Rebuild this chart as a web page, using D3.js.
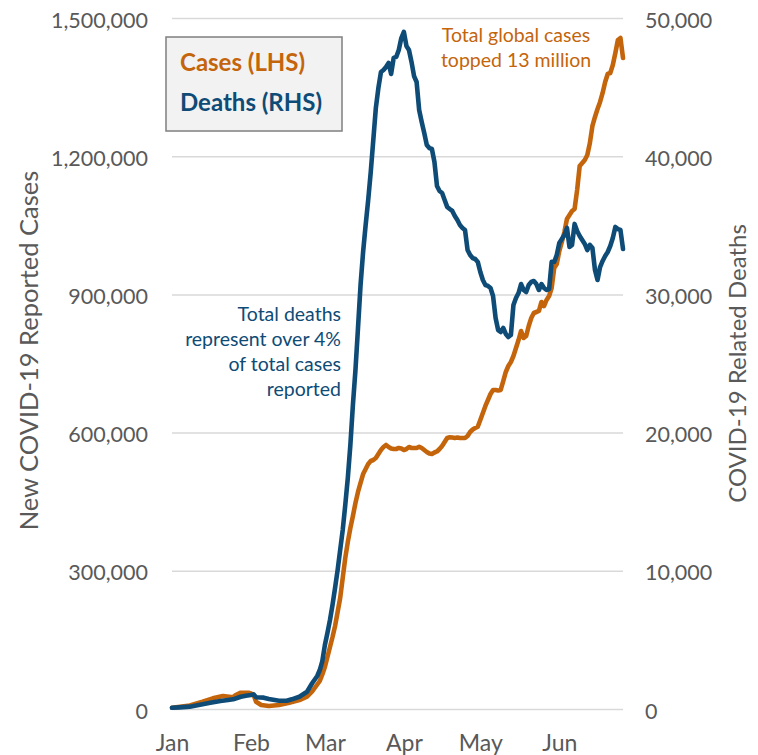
<!DOCTYPE html>
<html>
<head>
<meta charset="utf-8">
<script src="https://cdn.jsdelivr.net/npm/d3@7"></script>
<style>
  html, body { margin: 0; padding: 0; background: #fff; }
  svg { display: block; }
</style>
</head>
<body>
<svg id="chart" width="758" height="755"></svg>
<script>
// Rolling 7-day totals, days counted from 1 Jan 2020.
// Sparse readings until late February, then one value per day.
const earlyCaseDays = [0, 7, 12, 16, 20, 24, 25, 27, 30, 31, 32, 33, 35, 38, 42, 46, 50, 53, 55, 56, 58, 59];
const earlyCases = [2800, 7600, 15800, 23200, 28200, 25400, 30400, 35400, 35400, 33600, 30400, 15800, 8700, 6500, 8700, 13700, 19500, 26700, 38000, 45600, 60800, 75000];

const dailyCases = [
  91200, 112900, 134600, 156300, 180200, 210600, 241000, 284400, 327800, 362500,
  392900, 419000, 447200, 471100, 490600, 510100, 521000, 531800, 538400, 540500,
  544900, 553600, 562200, 568700, 573100, 568700, 565500, 564400, 564400, 566600,
  565500, 562200, 564400, 568700, 566600, 566600, 566600, 569400, 566600, 562200,
  557900, 554600, 553600, 556800, 559000, 564400, 570900, 579600, 588300, 589800,
  589400, 588300, 589400, 588300, 588300, 588300, 592600, 601300, 606700, 610000,
  612800, 627400, 642600, 657800, 670800, 683800, 692500, 692500, 691400, 692500,
  712000, 731600, 744600, 753300, 766300, 783700, 801000, 820600, 805400, 809700,
  831400, 848800, 859600, 861800, 864000, 883500, 874800, 887900, 896500, 913900,
  957300, 966000, 994200, 1013800, 1035500, 1063700, 1072400, 1081100, 1085400, 1126600,
  1178700, 1185300, 1191800, 1202600, 1228700, 1265600, 1285100, 1302500, 1317700, 1337200,
  1361100, 1378500, 1380600, 1398000, 1424000, 1452300, 1456600, 1413200
];

const earlyDeathDays = [0, 3, 7, 10, 12, 15, 19, 22, 24, 27, 29, 31, 32, 33, 36, 38, 42, 45, 47, 50, 53, 55, 57, 58, 59];
const earlyDeaths = [90, 120, 170, 270, 340, 450, 580, 650, 700, 890, 960, 1010, 1060, 850, 820, 720, 600, 600, 700, 890, 1250, 1860, 2390, 2820, 3470];

const dailyDeaths = [
  4630, 5500, 6440, 7530, 8760, 10060, 11510, 12950, 14760, 16720,
  19100, 22000, 24530, 27570, 30680, 33070, 35020, 36830, 38860, 41170,
  43490, 44940, 46090, 46240, 46460, 46750, 45950, 47110, 47180, 47690,
  48550, 48990, 47980, 47690, 46820, 45800, 45370, 43340, 42480, 41680,
  40810, 40590, 40520, 39580, 37840, 37480, 37340, 36830, 36330, 36180,
  36040, 35670, 35380, 35020, 34810, 34660, 33210, 32850, 32630, 32560,
  32350, 31620, 31040, 30680, 30610, 30460, 29890, 28290, 27420, 27280,
  27570, 27140, 26920, 27060, 29230, 29740, 30100, 30750, 30320, 30170,
  30680, 30900, 30970, 30750, 30320, 30750, 30460, 30320, 30390, 32350,
  32350, 32850, 33720, 34010, 34300, 34810, 33430, 33580, 35100, 34590,
  34230, 33940, 33650, 33210, 33580, 33360, 31770, 31040, 31980, 32420,
  32780, 33070, 33500, 34080, 34880, 34730, 34660, 33290
];
const firstDailyDay = 60;

const caseTicks = [0, 300000, 600000, 900000, 1200000, 1500000];
const deathTicks = [0, 10000, 20000, 30000, 40000, 50000];
const monthLabels = ["Jan", "Feb", "Mar", "Apr", "May", "Jun"];

const legendItems = ["Cases (LHS)", "Deaths (RHS)"];
const casesNote = ["Total global cases", "topped 13 million"];
const deathsNote = ["Total deaths", "represent over 4%", "of total cases", "reported"];
const leftTitle = "New COVID-19 Reported Cases";
const rightTitle = "COVID-19 Related Deaths";

// ---- build series ----
const start = new Date(2020, 0, 1);
const dayToDate = d => d3.timeDay.offset(start, d);

function buildSeries(earlyDays, earlyVals, dailyVals) {
  const pts = earlyDays.map((d, i) => ({ date: dayToDate(d), value: earlyVals[i] }));
  dailyVals.forEach((v, i) => pts.push({ date: dayToDate(firstDailyDay + i), value: v }));
  return pts;
}
const caseSeries = buildSeries(earlyCaseDays, earlyCases, dailyCases);
const deathSeries = buildSeries(earlyDeathDays, earlyDeaths, dailyDeaths);

// ---- layout ----
const plot = { left: 172, right: 623, top: 18, bottom: 709 };
const ORANGE = "#C4650C";
const BLUE = "#0E4B76";
const GREY_TEXT = "#595959";
const FONT = "Lato, 'Open Sans', sans-serif";

const svg = d3.select("#chart");

const x = d3.scaleTime()
  .domain([start, dayToDate(177)])
  .range([plot.left, plot.right]);
const yCases = d3.scaleLinear().domain([0, 1500000]).range([plot.bottom, plot.top]);
const yDeaths = d3.scaleLinear().domain([0, 50000]).range([plot.bottom, plot.top]);

// left axis draws the horizontal gridlines
const leftAxis = svg.append("g")
  .attr("transform", `translate(${plot.left},0)`)
  .call(d3.axisLeft(yCases)
    .tickValues(caseTicks)
    .tickSize(-(plot.right - plot.left))
    .tickPadding(24)
    .tickFormat(d3.format(",")));
leftAxis.select(".domain").remove();
leftAxis.selectAll(".tick line").attr("stroke", "#D9D9D9").attr("stroke-width", 1.5);
leftAxis.selectAll(".tick text")
  .attr("fill", GREY_TEXT)
  .attr("dy", "0.42em")
  .style("font-family", FONT)
  .style("font-size", "21.5px");

const rightAxis = svg.append("g")
  .attr("transform", `translate(${plot.right},0)`)
  .call(d3.axisRight(yDeaths)
    .tickValues(deathTicks)
    .tickSize(0)
    .tickPadding(22)
    .tickFormat(d3.format(",")));
rightAxis.select(".domain").remove();
rightAxis.selectAll(".tick text")
  .attr("fill", GREY_TEXT)
  .attr("dy", "0.42em")
  .style("font-family", FONT)
  .style("font-size", "21.5px");

const monthDates = monthLabels.map((m, i) => new Date(2020, i, 1));
const bottomAxis = svg.append("g")
  .attr("transform", `translate(0,${plot.bottom})`)
  .call(d3.axisBottom(x)
    .tickValues(monthDates)
    .tickSize(0)
    .tickPadding(26)
    .tickFormat((d, i) => monthLabels[i]));
bottomAxis.select(".domain").remove();
bottomAxis.selectAll(".tick text")
  .attr("fill", GREY_TEXT)
  .style("font-family", FONT)
  .style("font-size", "23px");

// axis titles
svg.append("text")
  .attr("transform", `translate(38,${(plot.top + plot.bottom) / 2 - 13}) rotate(-90)`)
  .attr("text-anchor", "middle")
  .attr("fill", GREY_TEXT)
  .style("font-family", FONT)
  .style("font-size", "25.5px")
  .text(leftTitle);

svg.append("text")
  .attr("transform", `translate(746,${(plot.top + plot.bottom) / 2}) rotate(-90)`)
  .attr("text-anchor", "middle")
  .attr("fill", GREY_TEXT)
  .style("font-family", FONT)
  .style("font-size", "24px")
  .text(rightTitle);

// lines
const caseLine = d3.line().x(d => x(d.date)).y(d => yCases(d.value));
const deathLine = d3.line().x(d => x(d.date)).y(d => yDeaths(d.value));

svg.append("path")
  .datum(caseSeries)
  .attr("d", caseLine)
  .attr("fill", "none")
  .attr("stroke", ORANGE)
  .attr("stroke-width", 4.6)
  .attr("stroke-linejoin", "round")
  .attr("stroke-linecap", "round");

svg.append("path")
  .datum(deathSeries)
  .attr("d", deathLine)
  .attr("fill", "none")
  .attr("stroke", BLUE)
  .attr("stroke-width", 4.6)
  .attr("stroke-linejoin", "round")
  .attr("stroke-linecap", "round");

// legend box
const legend = svg.append("g");
legend.append("rect")
  .attr("x", 166).attr("y", 37)
  .attr("width", 176).attr("height", 94)
  .attr("fill", "#F2F2F2")
  .attr("stroke", "#7F7F7F")
  .attr("stroke-width", 1.5);
legend.selectAll("text.legend-item")
  .data(legendItems)
  .join("text")
  .attr("class", "legend-item")
  .attr("x", 180)
  .attr("y", (d, i) => 71 + i * 40)
  .attr("fill", (d, i) => i === 0 ? ORANGE : BLUE)
  .style("font-family", FONT)
  .style("font-weight", "700")
  .style("font-size", "24px")
  .text(d => d);

// annotations
svg.append("text")
  .attr("text-anchor", "middle")
  .attr("fill", ORANGE)
  .style("font-family", FONT)
  .style("font-size", "19.5px")
  .selectAll("tspan")
  .data(casesNote)
  .join("tspan")
  .attr("x", 516)
  .attr("y", (d, i) => 42 + i * 25)
  .text(d => d);

svg.append("text")
  .attr("text-anchor", "end")
  .attr("fill", BLUE)
  .style("font-family", FONT)
  .style("font-size", "19.5px")
  .selectAll("tspan")
  .data(deathsNote)
  .join("tspan")
  .attr("x", 341)
  .attr("y", (d, i) => 321 + i * 25)
  .text(d => d);
</script>
</body>
</html>
